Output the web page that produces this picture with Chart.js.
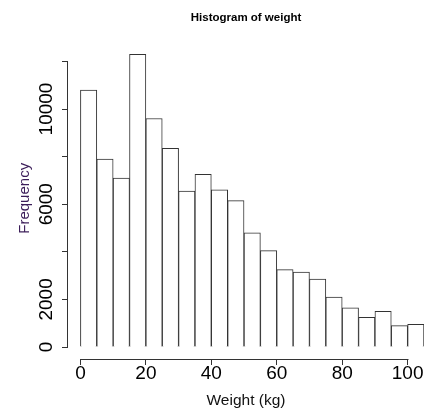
<!DOCTYPE html>
<html>
<head>
<meta charset="utf-8">
<script src="https://cdn.jsdelivr.net/npm/chart.js@4/dist/chart.umd.min.js"></script>
<style>
  html, body { margin: 0; padding: 0; background: #fff; }
  #wrap { width: 430px; height: 409px; }
</style>
</head>
<body>
<div id="wrap"><canvas id="hist"></canvas></div>
<script>
// histogram bins (5 kg wide), plotted at bin middles
const binMids = [2.5, 7.5, 12.5, 17.5, 22.5, 27.5, 32.5, 37.5, 42.5, 47.5,
  52.5, 57.5, 62.5, 67.5, 72.5, 77.5, 82.5, 87.5, 92.5, 97.5, 102.5];
const counts = [10800, 7900, 7100, 12300, 9600, 8350, 6550, 7250, 6600, 6150,
  4800, 4050, 3250, 3150, 2850, 2100, 1650, 1250, 1500, 900, 950];

const xTicks = [0, 20, 40, 60, 80, 100];
const yTicks = [0, 2000, 4000, 6000, 8000, 10000, 12000];
const yLabelled = [0, 2000, 6000, 10000];

const ink = '#333';
const font = 'Liberation Sans, Arial, sans-serif';

// R style axis lines: only span the tick range, set apart from the bars
const axisLines = {
  id: 'axisLines',
  afterDraw(chart) {
    const { ctx, chartArea, scales: { x, y } } = chart;
    const yy = Math.round(chartArea.bottom) + 0.5;
    const xx = Math.round(chartArea.left) - 0.5;
    ctx.save();
    ctx.strokeStyle = ink;
    ctx.lineWidth = 1;
    ctx.beginPath();
    ctx.moveTo(Math.round(x.getPixelForValue(xTicks[0])) + 0.5, yy);
    ctx.lineTo(Math.round(x.getPixelForValue(xTicks[xTicks.length - 1])) + 0.5, yy);
    ctx.moveTo(xx, Math.round(y.getPixelForValue(yTicks[0])) + 0.5);
    ctx.lineTo(xx, Math.round(y.getPixelForValue(yTicks[yTicks.length - 1])) + 0.5);
    ctx.stroke();
    ctx.restore();
  }
};

const data = {
  datasets: [{
    label: 'weight',
    data: binMids.map((m, i) => ({ x: m, y: counts[i] })),
    backgroundColor: '#fff',
    borderColor: ink,
    borderWidth: 1,
    barPercentage: 1,
    categoryPercentage: 1,
  }]
};

const config = {
  type: 'bar',
  data: data,
  plugins: [axisLines],
  options: {
    responsive: true,
    maintainAspectRatio: false,
    animation: false,
    layout: { padding: { left: 0, right: 6, top: 0, bottom: 0 } },
    plugins: {
      legend: { display: false },
      tooltip: { enabled: false },
      title: {
        display: true,
        text: 'Histogram of weight',
        fullSize: false,
        color: '#000',
        font: { family: font, size: 11.5, weight: 'bold', lineHeight: 1.2 },
        padding: { top: 10.5, bottom: 13.3 },
      },
    },
    scales: {
      x: {
        type: 'linear',
        min: -3.8,
        max: 105,
        offset: false,
        afterBuildTicks: (s) => { s.ticks = xTicks.map(v => ({ value: v })); },
        afterFit: (s) => { s.height = 50; },
        border: { display: false },
        grid: { offset: false, drawOnChartArea: false, drawTicks: true, tickLength: 6, color: ink },
        ticks: {
          autoSkip: false,
          color: '#000',
          font: { family: font, size: 19, lineHeight: 1 },
          padding: -1,
          maxRotation: 0,
        },
        title: {
          display: true,
          text: 'Weight (kg)',
          color: '#111',
          font: { family: font, size: 15.5, lineHeight: 1 },
          padding: { top: 0, bottom: 1 },
        },
      },
      y: {
        min: -504,
        max: 13000,
        afterBuildTicks: (s) => { s.ticks = yTicks.map(v => ({ value: v })); },
        afterFit: (s) => { s.width = 68; },
        border: { display: false },
        grid: { drawOnChartArea: false, drawTicks: true, tickLength: 6, color: ink },
        ticks: {
          autoSkip: false,
          color: '#000',
          font: { family: font, size: 19, lineHeight: 1 },
          minRotation: 90,
          maxRotation: 90,
          crossAlign: 'center',
          padding: -11,
          callback: (v) => yLabelled.includes(v) ? String(v) : '',
        },
        title: {
          display: true,
          text: 'Frequency',
          color: '#3b1d59',
          font: { family: font, size: 15, lineHeight: 1 },
          padding: { top: 17, bottom: 0 },
        },
      },
    },
  },
};

new Chart(document.getElementById('hist'), config);
</script>
</body>
</html>
